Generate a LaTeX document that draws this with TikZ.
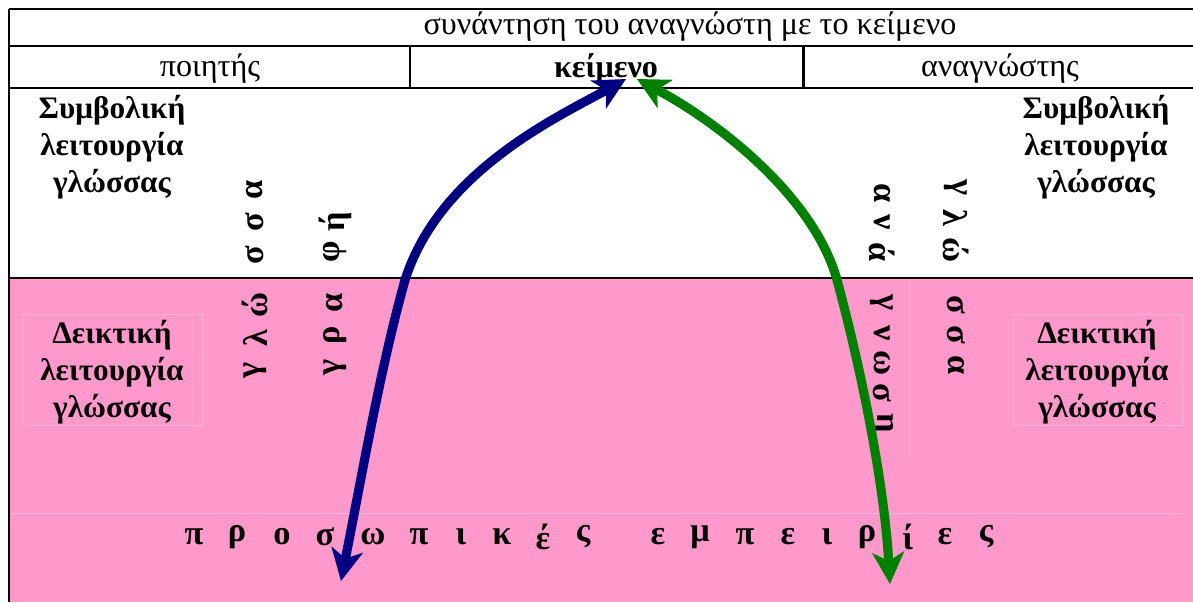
\documentclass[tikz,border=0pt]{standalone}
\usepackage{fontspec}
\setmainfont{Liberation Serif}
\usetikzlibrary{arrows.meta}
\definecolor{pinkbg}{RGB}{255,153,204}
\definecolor{faintline}{RGB}{255,178,218}
\definecolor{poetblue}{RGB}{0,0,128}
\definecolor{readergreen}{RGB}{0,128,0}

\tikzset{
  headcell/.style={font=\fontsize{18.3}{21}\selectfont, inner sep=0pt},
  funcbox/.style={font=\bfseries\fontsize{17.8}{21}\selectfont, align=center, inner sep=0pt},
  vletter/.style={font=\bfseries\fontsize{19.5}{21}\selectfont, inner sep=0pt},
  archarrow/.style={line width=5.2pt,
    {Stealth[length=18pt,width=18pt,inset=5pt]}-{Stealth[length=18pt,width=18pt,inset=5pt]}},
}

\begin{document}
\begin{tikzpicture}[x=0.02cm, y=-0.02cm]
  \useasboundingbox (0,0) rectangle (1193,602);
  % Background areas
  \fill[white] (0,0) rectangle (1193,602);
  \fill[pinkbg] (9,278) rectangle (1193,602);
  % Faint cell borders in the pink part
  \draw[faintline, line width=0.45pt] (23,314) rectangle (202,425);
  \draw[faintline, line width=0.45pt] (1013,314) rectangle (1182,425);
  \draw[faintline, line width=0.45pt] (909,280) -- (909,460);
  \draw[faintline, line width=0.45pt] (10,513) -- (1182,513);
  % Table frame
  \draw[line width=1.1pt] (9,9) -- (1193,9);
  \draw[line width=1.7pt] (9,9) -- (9,602);
  \draw[line width=1.7pt] (9,46) -- (1193,46) (9,88) -- (1193,88);
  \draw[line width=1.7pt] (410,46) -- (410,88) (803,46) -- (803,88);
  \draw[line width=1.5pt] (9,278) -- (1193,278);

  % Header rows
  \node[headcell] (meeting) at (690,27) {συνάντηση του αναγνώστη με το κείμενο};
  \node[headcell] (poet) at (210,69) {ποιητής};
  \node[headcell, font=\bfseries\fontsize{18.3}{21}\selectfont] (text) at (606,69) {κείμενο};
  \node[headcell] (reader) at (1000,69) {αναγνώστης};

  % Functions of language
  \node[funcbox] (symbLeft) at (112,147) {Συμβολική\\λειτουργία\\γλώσσας};
  \node[funcbox] (symbRight) at (1096,147) {Συμβολική\\λειτουργία\\γλώσσας};
  \node[funcbox] (deixLeft) at (112,372) {Δεικτική\\λειτουργία\\γλώσσας};
  \node[funcbox] (deixRight) at (1097,372) {Δεικτική\\λειτουργία\\γλώσσας};

  % Vertical words, poet side (read upwards)
  \foreach \ch/\py [count=\i] in {γ/370, λ/338, ώ/305, σ/255, σ/222, α/190}
    \node[vletter, rotate=90] (lang\i) at (255,\py) {\ch};
  \foreach \ch/\py [count=\i] in {γ/367, ρ/335, α/303, φ/252, ή/222}
    \node[vletter, rotate=90] (writ\i) at (335,\py) {\ch};
  % Vertical words, reader side (read downwards)
  \foreach \ch/\py [count=\i] in {α/193, ν/222, ά/252, γ/303, ν/333, ω/363, σ/393, η/423}
    \node[vletter, rotate=-90] (read\i) at (882,\py) {\ch};
  \foreach \ch/\py [count=\i] in {γ/188, λ/218, ώ/250, σ/305, σ/335, α/365}
    \node[vletter, rotate=-90] (tong\i) at (956,\py) {\ch};

  % Personal experiences
  \foreach \ch/\px [count=\i] in {π/194, ρ/237, ο/282, σ/325, ω/373, π/419, ι/461, κ/502, έ/543, ς/583}
    \node[vletter] (pers\i) at (\px,537) {\ch};
  \foreach \ch/\px [count=\i] in {ε/658, μ/700, π/745, ε/788, ι/827, ρ/867, ί/908, ε/945, ς/986}
    \node[vletter] (exp\i) at (\px,537) {\ch};

  % Arrows between experiences and the text
  \coordinate (blueTop) at (626,79);
  \coordinate (blueBottom) at (341,581);
  \coordinate (greenTop) at (637,79);
  \coordinate (greenBottom) at (890,584);
  \draw[archarrow, poetblue] (blueBottom)
    .. controls (363,470) and (380,370) .. (405,280)
    .. controls (440,170) and (560,116) .. (blueTop);
  \draw[archarrow, readergreen] (greenTop)
    .. controls (725,126) and (815,200) .. (837,280)
    .. controls (860,365) and (884,480) .. (greenBottom);
\end{tikzpicture}
\end{document}
